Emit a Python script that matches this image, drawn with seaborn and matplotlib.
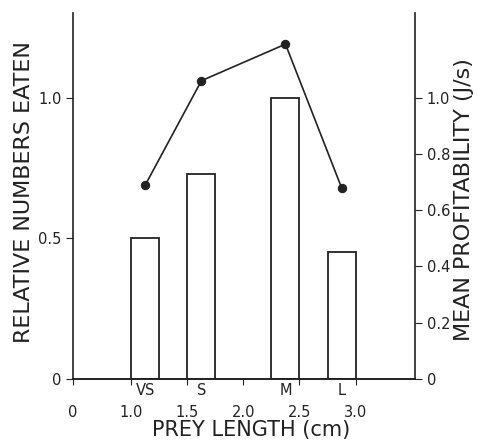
import numpy as np
import pandas as pd
import seaborn as sns
import matplotlib.pyplot as plt

# prey size classes, bar centres (cm) and values
size_class = ['VS', 'S', 'M', 'L']
bar_centre = [1.125, 1.625, 2.375, 2.875]
rel_eaten = [0.50, 0.73, 1.00, 0.45]
profitability = [0.69, 1.06, 1.19, 0.68]

x_ticks = [0.48, 1.0, 1.5, 2.0, 2.5, 3.0]
x_ticklabels = ['0', '1.0', '1.5', '2.0', '2.5', '3.0']
left_ticks = [0, 0.5, 1.0]
left_ticklabels = ['0', '0.5', '1.0']
right_ticks = [0, 0.2, 0.4, 0.6, 0.8, 1.0]
right_ticklabels = ['0', '0.2', '0.4', '0.6', '0.8', '1.0']

df = pd.DataFrame({'size': size_class, 'x': bar_centre,
                   'eaten': rel_eaten, 'profit': profitability})

sns.set_style('ticks')
plt.rcParams['font.family'] = ['DejaVu Sans']
ink = '#222222'

fig = plt.figure(figsize=(4.78, 4.40), dpi=100)
ax = fig.add_axes([0.153, 0.139, 0.715, 0.831])

sns.barplot(data=df, x='x', y='eaten', native_scale=True, width=0.5,
            color='white', edgecolor=ink, linewidth=1.3, errorbar=None,
            saturation=1, ax=ax)

ax2 = ax.twinx()
sns.lineplot(data=df, x='x', y='profit', color=ink, linewidth=1.2,
             marker='o', markersize=6, markeredgecolor=ink, ax=ax2)

for a in (ax, ax2):
    a.set_xlim(0.48, 3.53)
    a.set_ylim(0, 1.3)
    for s in a.spines.values():
        s.set_color(ink)
        s.set_linewidth(1.2)
    a.spines['top'].set_visible(False)

ax.set_xticks(x_ticks)
ax.set_xticklabels(x_ticklabels)
ax.tick_params(axis='x', length=4, pad=15, labelsize=10.5, color=ink, labelcolor=ink)
ax.set_yticks(left_ticks)
ax.set_yticklabels(left_ticklabels)
ax.tick_params(axis='y', length=5, labelsize=10.5, color=ink, labelcolor=ink)
ax.spines['right'].set_visible(False)

ax2.set_yticks(right_ticks)
ax2.set_yticklabels(right_ticklabels)
ax2.tick_params(axis='y', length=5, labelsize=10.5, color=ink, labelcolor=ink)
ax2.spines['left'].set_visible(False)

for lab, c in zip(size_class, bar_centre):
    ax.text(c, -0.012, lab, transform=ax.get_xaxis_transform(),
            ha='center', va='top', fontsize=10.5, color=ink)

ax.set_xlabel('PREY LENGTH (cm)', fontsize=15, color=ink)
ax.set_ylabel('RELATIVE NUMBERS EATEN', fontsize=16, color=ink)
ax2.set_ylabel('MEAN PROFITABILITY (J/s)', fontsize=16, color=ink)
for lbl in (ax.xaxis.label, ax.yaxis.label, ax2.yaxis.label):
    lbl.set_ha('center')
    lbl.set_va('center')
ax.xaxis.set_label_coords(0.522, -0.139)
ax.yaxis.set_label_coords(-0.143, 0.51)
ax2.yaxis.set_label_coords(1.143, 0.49)

fig.savefig('out.png', dpi=100)
